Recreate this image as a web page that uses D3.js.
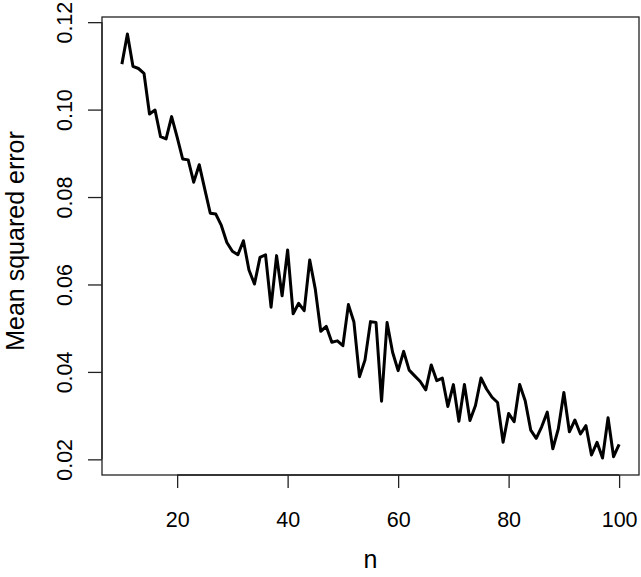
<!DOCTYPE html>
<html>
<head>
<meta charset="utf-8">
<script src="https://cdn.jsdelivr.net/npm/d3@7"></script>
<style>
  body { margin: 0; background: #fff; }
  svg text { font-family: "Liberation Sans", Arial, Helvetica, sans-serif; fill: #000; }
</style>
</head>
<body>
<div id="chart"></div>
<script>
// Sample sizes n = 10..100
var nValues = d3.range(10, 101);
// Mean squared error
var mseValues = [
  0.1104, 0.1173, 0.1099, 0.1094, 0.1083, 0.0990, 0.0999, 0.0938, 0.0933, 0.0984,
  0.0937, 0.0887, 0.0885, 0.0834, 0.0874, 0.0818, 0.0763, 0.0761, 0.0735, 0.0696,
  0.0676, 0.0668, 0.0700, 0.0633, 0.0601, 0.0662, 0.0668, 0.0548, 0.0666, 0.0574,
  0.0679, 0.0533, 0.0557, 0.0540, 0.0656, 0.0590, 0.0493, 0.0504, 0.0468, 0.0471,
  0.0460, 0.0554, 0.0514, 0.0389, 0.0427, 0.0515, 0.0513, 0.0333, 0.0513, 0.0445,
  0.0403, 0.0447, 0.0404, 0.0391, 0.0378, 0.0359, 0.0416, 0.0380, 0.0386, 0.0321,
  0.0371, 0.0287, 0.0371, 0.0289, 0.0323, 0.0386, 0.0361, 0.0342, 0.0330, 0.0239,
  0.0305, 0.0286, 0.0371, 0.0334, 0.0267, 0.0248, 0.0275, 0.0308, 0.0224, 0.0270,
  0.0353, 0.0263, 0.0290, 0.0258, 0.0277, 0.0210, 0.0239, 0.0203, 0.0295, 0.0206,
  0.0234
];
var xTicks = [20, 40, 60, 80, 100];
var yTicks = [0.02, 0.04, 0.06, 0.08, 0.10, 0.12];

var data = nValues.map(function(n, i) { return { n: n, mse: mseValues[i] }; });

var W = 641, H = 577;
var margin = { top: 17, right: 2, bottom: 102, left: 102 };
var width = W - margin.left - margin.right;
var height = H - margin.top - margin.bottom;
var fontFam = '"Liberation Sans", Arial, Helvetica, sans-serif';

// R-style 4% padding on the data range
function pad(ext) {
  var r = ext[1] - ext[0];
  return [ext[0] - 0.04 * r, ext[1] + 0.04 * r];
}

var xScale = d3.scaleLinear().domain(pad(d3.extent(nValues))).range([0, width]);
var yScale = d3.scaleLinear().domain(pad(d3.extent(mseValues))).range([height, 0]);

var svg = d3.select('#chart').append('svg')
  .attr('width', W).attr('height', H);
var g = svg.append('g')
  .attr('transform', 'translate(' + margin.left + ',' + margin.top + ')');

// line
var line = d3.line()
  .x(function(d) { return xScale(d.n); })
  .y(function(d) { return yScale(d.mse); });
g.append('path')
  .datum(data)
  .attr('d', line)
  .attr('fill', 'none')
  .attr('stroke', '#000')
  .attr('stroke-width', 3)
  .attr('stroke-linejoin', 'round');

// box
g.append('rect')
  .attr('x', 0).attr('y', 0)
  .attr('width', width).attr('height', height)
  .attr('fill', 'none').attr('stroke', '#222').attr('stroke-width', 1.3);

// axes
var xAxis = d3.axisBottom(xScale).tickValues(xTicks).tickSize(13).tickPadding(24)
  .tickFormat(d3.format('d'));
var gx = g.append('g').attr('transform', 'translate(0,' + height + ')').call(xAxis);
gx.select('.domain').attr('d', 'M' + xScale(xTicks[0]) + ',0H' + xScale(xTicks[xTicks.length - 1]))
  .attr('stroke', '#222').attr('stroke-width', 1.3);
gx.selectAll('.tick line').attr('stroke', '#222').attr('stroke-width', 1.3);
gx.selectAll('.tick text').attr('font-size', 21.5).attr('dy', '0.71em')
  .style('font-family', fontFam).attr('fill', '#000');

var yAxis = d3.axisLeft(yScale).tickValues(yTicks).tickSize(14)
  .tickFormat(d3.format('.2f'));
var gy = g.append('g').call(yAxis);
gy.select('.domain').attr('d', 'M0,' + yScale(yTicks[0]) + 'V' + yScale(yTicks[yTicks.length - 1]))
  .attr('stroke', '#222').attr('stroke-width', 1.3);
gy.selectAll('.tick line').attr('stroke', '#222').attr('stroke-width', 1.3);
gy.selectAll('.tick text')
  .attr('x', null).attr('dy', null)
  .attr('text-anchor', 'middle')
  .attr('transform', 'translate(-30,0) rotate(-90)')
  .attr('font-size', 21.5)
  .style('font-family', fontFam).attr('fill', '#000');

// axis titles
svg.append('text')
  .attr('x', margin.left + xScale(55))
  .attr('y', 568)
  .attr('text-anchor', 'middle')
  .attr('font-size', 25)
  .text('n');
svg.append('text')
  .attr('transform', 'translate(24,' + (margin.top + height / 2 - 5) + ') rotate(-90)')
  .attr('text-anchor', 'middle')
  .attr('font-size', 25)
  .text('Mean squared error');
</script>
</body>
</html>
